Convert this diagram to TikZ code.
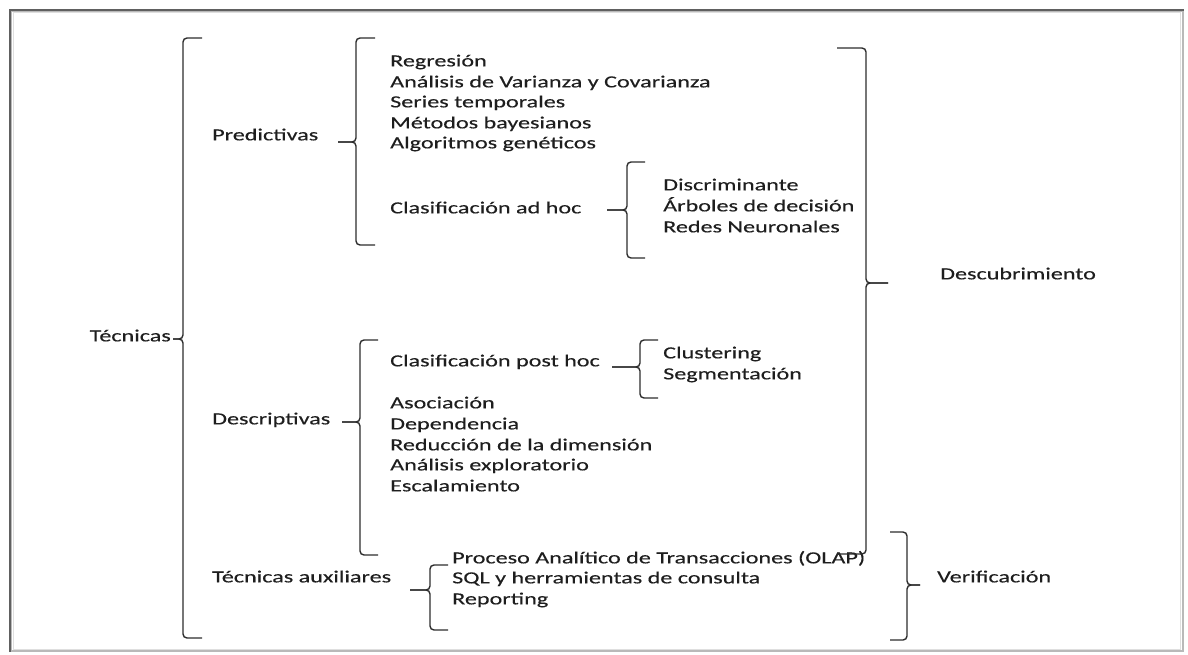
\documentclass[tikz,border=0pt]{standalone}
\usepackage{fontspec}
\setmainfont{Carlito}[FakeStretch=1.42,FakeBold=0.3]
\definecolor{txt}{RGB}{30,30,30}
\definecolor{brcc}{RGB}{45,45,45}
\tikzset{
  lbl/.style={anchor=mid west, inner sep=0pt, text=txt, font=\fontsize{17}{20.5}\selectfont},
  brc/.style={draw=brcc, line width=1.4pt, rounded corners=4pt},
}
% x, top, bottom, mid, tip x, hook x
\newcommand{\Brace}[6]{%
  \draw[brc] (#6,#2) -- (#1,#2) -- (#1,#4) -- (#5,#4);
  \draw[brc] (#5,#4) -- (#1,#4) -- (#1,#3) -- (#6,#3);
}
\begin{document}
\begin{tikzpicture}[x=1pt,y=-1pt]
\useasboundingbox (0,0) rectangle (1188,655);
% frame
\draw[line width=1pt, gray!25] (13,13) rectangle (1180,649);
\draw[line width=1.5pt, gray!55] (11,11) rectangle (1183,651);
\draw[line width=2pt, gray!75!black] (10,652) -- (10,10) -- (1184,10);

% labels
\node[lbl, anchor=mid east] (tec) at (171,339) {Técnicas};
\node[lbl] (pred) at (212,138) {Predictivas};
\node[lbl] (p1) at (390,64) {Regresión};
\node[lbl] (p2) at (390,85) {Análisis de Varianza y Covarianza};
\node[lbl] (p3) at (390,105) {Series temporales};
\node[lbl] (p4) at (390,126) {Métodos bayesianos};
\node[lbl] (p5) at (390,146) {Algoritmos genéticos};
\node[lbl] (adhoc) at (390,211) {Clasificación ad hoc};
\node[lbl] (a1) at (663,188) {Discriminante};
\node[lbl] (a2) at (663,209) {Árboles de decisión};
\node[lbl] (a3) at (663,230) {Redes Neuronales};
\node[lbl] (desc) at (940,277) {Descubrimiento};
\node[lbl] (posthoc) at (390,364) {Clasificación post hoc};
\node[lbl] (c1) at (663,356) {Clustering};
\node[lbl] (c2) at (663,377) {Segmentación};
\node[lbl] (descr) at (212,422) {Descriptivas};
\node[lbl] (d1) at (390,406) {Asociación};
\node[lbl] (d2) at (390,427) {Dependencia};
\node[lbl] (d3) at (390,448) {Reducción de la dimensión};
\node[lbl] (d4) at (390,468) {Análisis exploratorio};
\node[lbl] (d5) at (390,489) {Escalamiento};
\node[lbl] (aux) at (212,580) {Técnicas auxiliares};
\node[lbl] (x1) at (452,561) {Proceso Analítico de Transacciones (OLAP)};
\node[lbl] (x2) at (452,581) {SQL y herramientas de consulta};
\node[lbl] (x3) at (452,602) {Reporting};
\node[lbl] (ver) at (937,580) {Verificación};

% braces
\Brace{183}{38}{638}{339}{173}{202}
\Brace{356}{38}{245}{142}{338}{375}
\Brace{627}{162}{258}{210}{607}{645}
\Brace{866}{48}{554}{283}{888}{837}
\Brace{360}{340}{555}{422}{342}{378}
\Brace{640}{340}{398}{367}{612}{658}
\Brace{430}{565}{630}{590}{410}{448}
\Brace{907}{532}{640}{585}{920}{890}
\end{tikzpicture}
\end{document}
